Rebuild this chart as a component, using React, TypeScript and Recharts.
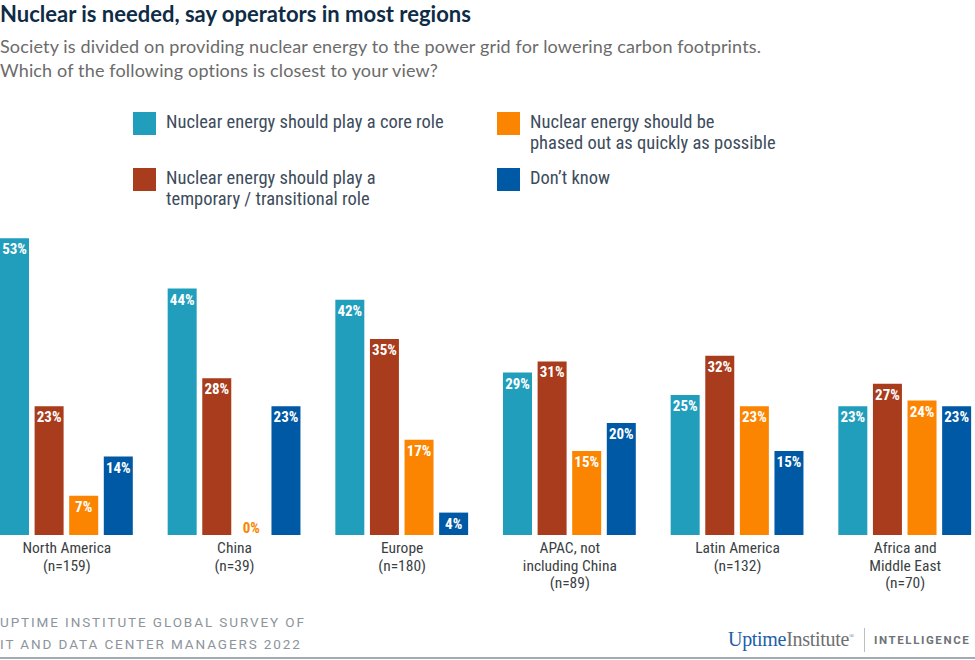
import React from 'react';
import { BarChart, Bar, XAxis, YAxis, LabelList } from 'recharts';

const regions = [
  'North America\n(n=159)',
  'China\n(n=39)',
  'Europe\n(n=180)',
  'APAC, not\nincluding China\n(n=89)',
  'Latin America\n(n=132)',
  'Africa and\nMiddle East\n(n=70)',
];

const coreRole = [53, 44, 42, 29, 25, 23];
const transitional = [23, 28, 35, 31, 32, 27];
const phasedOut = [7, 0, 17, 15, 23, 24];
const dontKnow = [14, 23, 4, 20, 15, 23];

const seriesNames = [
  'Nuclear energy should play a core role',
  'Nuclear energy should play a\ntemporary / transitional role',
  'Nuclear energy should be\nphased out as quickly as possible',
  'Don\u2019t know',
];

const COLORS = {
  core: '#219ebc',
  transitional: '#a83c1c',
  phased: '#fb8500',
  dontKnow: '#0059a5',
};

const NARROW = '"Liberation Sans Narrow", "Roboto Condensed", Roboto, sans-serif';
const SANS = 'Lato, "Open Sans", sans-serif';

const data = regions.map((region, i) => ({
  region,
  core: coreRole[i],
  transitional: transitional[i],
  phased: phasedOut[i],
  dontKnow: dontKnow[i],
}));

function BarValue(props: any) {
  const { x, y, width, height, value, color } = props;
  const zero = value === 0;
  // zero-height bars get their label sitting on the baseline in the series colour
  const top = zero ? y + height : y;
  return (
    <text
      x={x + width / 2}
      y={zero ? top - 2 : top + 16}
      textAnchor="middle"
      fill={zero ? color : '#ffffff'}
      fontFamily={NARROW}
      fontSize={15}
      fontWeight={700}
    >
      {`${value}%`}
    </text>
  );
}

function RegionTick(props: any) {
  const { x, y, payload } = props;
  const lines = String(payload.value).split('\n');
  return (
    <text x={x} y={y + 10} textAnchor="middle" fill="#3b3f44" fontFamily={NARROW} fontSize={15.5}>
      {lines.map((line, i) => (
        <tspan key={i} x={x} dy={i === 0 ? 0 : 17.5}>
          {line}
        </tspan>
      ))}
    </text>
  );
}

function LegendItem({ color, label, left, top }: { color: string; label: string; left: number; top: number }) {
  return (
    <div style={{ position: 'absolute', left, top, display: 'flex' }}>
      <div style={{ width: 23, height: 23, background: color }} />
      <div
        style={{
          marginLeft: 10,
          fontFamily: NARROW,
          fontSize: 18.5,
          lineHeight: '21px',
          color: '#3d4c5c',
          whiteSpace: 'pre',
        }}
      >
        {label}
      </div>
    </div>
  );
}

export default function App() {
  return (
    <div
      style={{
        position: 'fixed',
        left: 0,
        top: 0,
        width: 975,
        height: 660,
        background: '#ffffff',
        overflow: 'hidden',
      }}
    >
      <div
        style={{
          position: 'absolute',
          left: 0,
          top: 0,
          fontFamily: SANS,
          fontWeight: 700,
          fontSize: 22,
          color: '#0f2c47',
          whiteSpace: 'nowrap',
        }}
      >
        Nuclear is needed, say operators in most regions
      </div>
      <div
        style={{
          position: 'absolute',
          left: 0,
          top: 34,
          fontFamily: SANS,
          fontSize: 18,
          lineHeight: '24px',
          letterSpacing: 0.15,
          color: '#6b6b6b',
          whiteSpace: 'pre',
        }}
      >
        {'Society is divided on providing nuclear energy to the power grid for lowering carbon footprints.\nWhich of the following options is closest to your view?'}
      </div>

      <LegendItem color={COLORS.core} label={seriesNames[0]} left={133} top={112} />
      <LegendItem color={COLORS.transitional} label={seriesNames[1]} left={133} top={168} />
      <LegendItem color={COLORS.phased} label={seriesNames[2]} left={497} top={112} />
      <LegendItem color={COLORS.dontKnow} label={seriesNames[3]} left={497} top={168} />

      <div style={{ position: 'absolute', left: -17, top: 0 }}>
        <BarChart
          width={1006}
          height={600}
          data={data}
          margin={{ top: 199, right: 0, left: 0, bottom: 5 }}
          barGap={5.6}
          barSize={29}
        >
          <XAxis
            dataKey="region"
            axisLine={false}
            tickLine={false}
            interval={0}
            height={60}
            tick={<RegionTick />}
          />
          <YAxis hide domain={[0, 60]} />
          <Bar dataKey="core" fill={COLORS.core} isAnimationActive={false}>
            <LabelList dataKey="core" content={(p: any) => <BarValue {...p} color={COLORS.core} />} />
          </Bar>
          <Bar dataKey="transitional" fill={COLORS.transitional} isAnimationActive={false}>
            <LabelList
              dataKey="transitional"
              content={(p: any) => <BarValue {...p} color={COLORS.transitional} />}
            />
          </Bar>
          <Bar dataKey="phased" fill={COLORS.phased} minPointSize={0.01} isAnimationActive={false}>
            <LabelList dataKey="phased" content={(p: any) => <BarValue {...p} color={COLORS.phased} />} />
          </Bar>
          <Bar dataKey="dontKnow" fill={COLORS.dontKnow} isAnimationActive={false}>
            <LabelList dataKey="dontKnow" content={(p: any) => <BarValue {...p} color={COLORS.dontKnow} />} />
          </Bar>
        </BarChart>
      </div>

      <div
        style={{
          position: 'absolute',
          left: 0,
          top: 611,
          fontFamily: 'Roboto, sans-serif',
          fontSize: 13.5,
          lineHeight: '22px',
          letterSpacing: 1.9,
          color: '#8c949c',
          whiteSpace: 'pre',
        }}
      >
        {'UPTIME INSTITUTE GLOBAL SURVEY OF\nIT AND DATA CENTER MANAGERS 2022'}
      </div>

      <div
        style={{
          position: 'absolute',
          left: 728,
          top: 628,
          fontFamily: '"Liberation Serif", serif',
          fontSize: 20,
          letterSpacing: -0.3,
          whiteSpace: 'nowrap',
        }}
      >
        <span style={{ color: '#1d5ea8' }}>Uptime</span>
        <span style={{ color: '#6d6f72' }}>Institute</span>
        <sup style={{ fontSize: 7, color: '#6d6f72' }}>&reg;</sup>
      </div>
      <div style={{ position: 'absolute', left: 864, top: 628, width: 1, height: 24, background: '#b9bfc5' }} />
      <div
        style={{
          position: 'absolute',
          left: 874,
          top: 633,
          fontFamily: 'Roboto, sans-serif',
          fontWeight: 700,
          fontSize: 11.5,
          letterSpacing: 1.6,
          color: '#6f7377',
          whiteSpace: 'nowrap',
        }}
      >
        INTELLIGENCE
      </div>
      <div style={{ position: 'absolute', left: 0, top: 657, width: 975, height: 2, background: '#a2aab2' }} />
    </div>
  );
}
